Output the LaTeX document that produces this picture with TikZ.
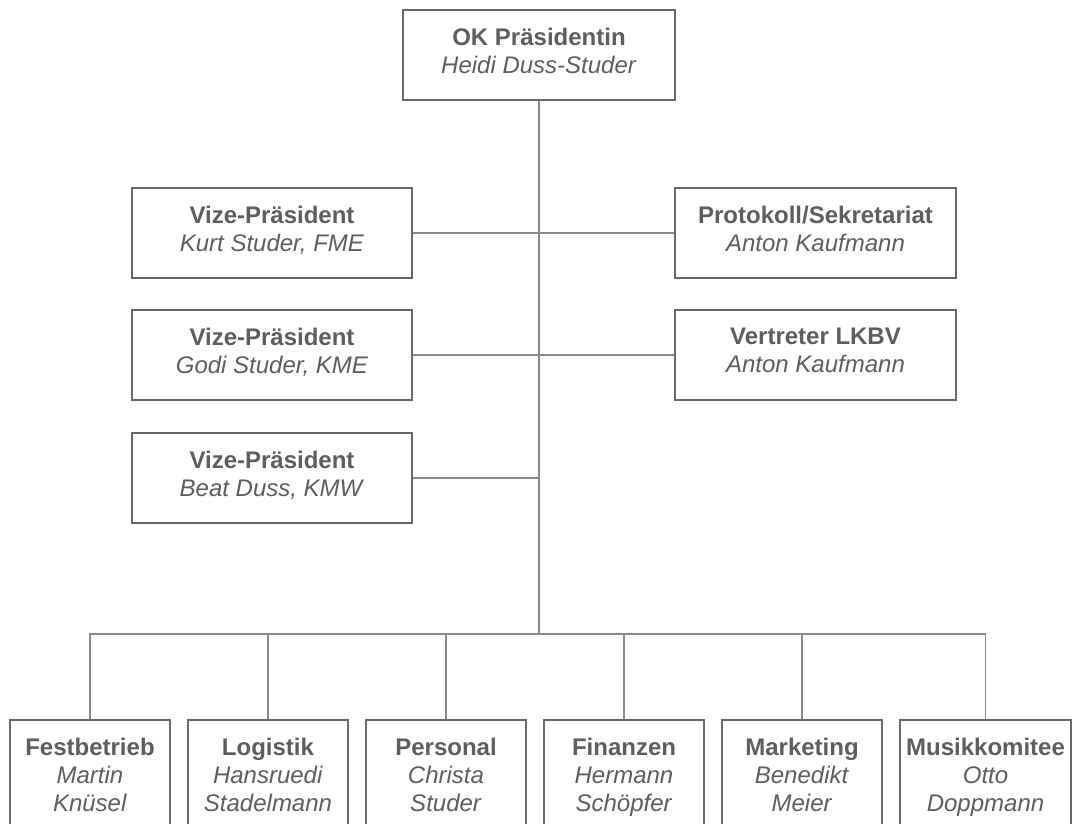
\documentclass[tikz,border=0pt]{standalone}
\usepackage{fontspec}
\setmainfont{Liberation Sans}
\usepackage{tikz}
\usetikzlibrary{positioning}
\definecolor{boxline}{HTML}{686868}
\definecolor{linkgray}{HTML}{8a8a8a}
\definecolor{inkgray}{HTML}{5e5e5e}
\newcommand{\role}[1]{\textbf{#1}}
\newcommand{\who}[1]{\textit{#1}}

\begin{document}
\begin{tikzpicture}[
  x=1pt,y=-1pt,
  font=\fontsize{24}{28}\selectfont,
  box/.style={draw=boxline,line width=2pt,fill=white,align=center,text=inkgray,inner sep=4pt,text depth=9pt},
  head/.style={box,minimum width=272pt,minimum height=90pt},
  board/.style={box,minimum width=280pt,minimum height=90pt},
  unit/.style={box,minimum width=160pt,minimum height=118pt},
  link/.style={draw=linkgray,line width=1.5pt},
  node distance=30pt and 16pt]
  \clip (0,0) rectangle (1081,823);
  % head
  \node[head] (ok) at (539,55) {\role{OK Präsidentin}\\\who{Heidi Duss-Studer}};
  % board, left side
  \node[board] (vp1) at (272,233) {\role{Vize-Präsident}\\\who{Kurt Studer, FME}};
  \node[board,below=of vp1] (vp2) {\role{Vize-Präsident}\\\who{Godi Studer, KME}};
  \node[board,below=31pt of vp2] (vp3) {\role{Vize-Präsident}\\\who{Beat Duss, KMW}};
  % board, right side
  \node[board,minimum width=281pt] (prot) at (815.5,233) {\role{Protokoll/Sekretariat}\\\who{Anton Kaufmann}};
  \node[board,minimum width=281pt,below=of prot] (lkbv) {\role{Vertreter LKBV}\\\who{Anton Kaufmann}};
  % units
  \node[unit] (fest) at (90,779) {\role{Festbetrieb}\\\who{Martin}\\\who{Knüsel}};
  \node[unit,right=of fest] (logi) {\role{Logistik}\\\who{Hansruedi}\\\who{Stadelmann}};
  \node[unit,right=of logi] (pers) {\role{Personal}\\\who{Christa}\\\who{Studer}};
  \node[unit,right=of pers] (fin) {\role{Finanzen}\\\who{Hermann}\\\who{Schöpfer}};
  \node[unit,right=of fin] (mark) {\role{Marketing}\\\who{Benedikt}\\\who{Meier}};
  \node[unit,minimum width=171pt,right=of mark] (musik) {\role{Musikkomitee}\\\who{Otto}\\\who{Doppmann}};
  \coordinate (bus) at (539,634);
  \draw[link] (ok) -- (bus);
  \draw[link] (vp1.east) -- (vp1.east -| bus); \draw[link] (vp2.east) -- (vp2.east -| bus); \draw[link] (vp3.east) -- (vp3.east -| bus);
  \draw[link] (prot.west) -- (prot.west -| bus); \draw[link] (lkbv.west) -- (lkbv.west -| bus);
  \draw[link] (fest.north) |- (bus); \draw[link] (logi.north) |- (bus); \draw[link] (pers.north) |- (bus);
  \draw[link] (fin.north) |- (bus); \draw[link] (mark.north) |- (bus); \draw[link] (musik.north) |- (bus);
\end{tikzpicture}
\end{document}
